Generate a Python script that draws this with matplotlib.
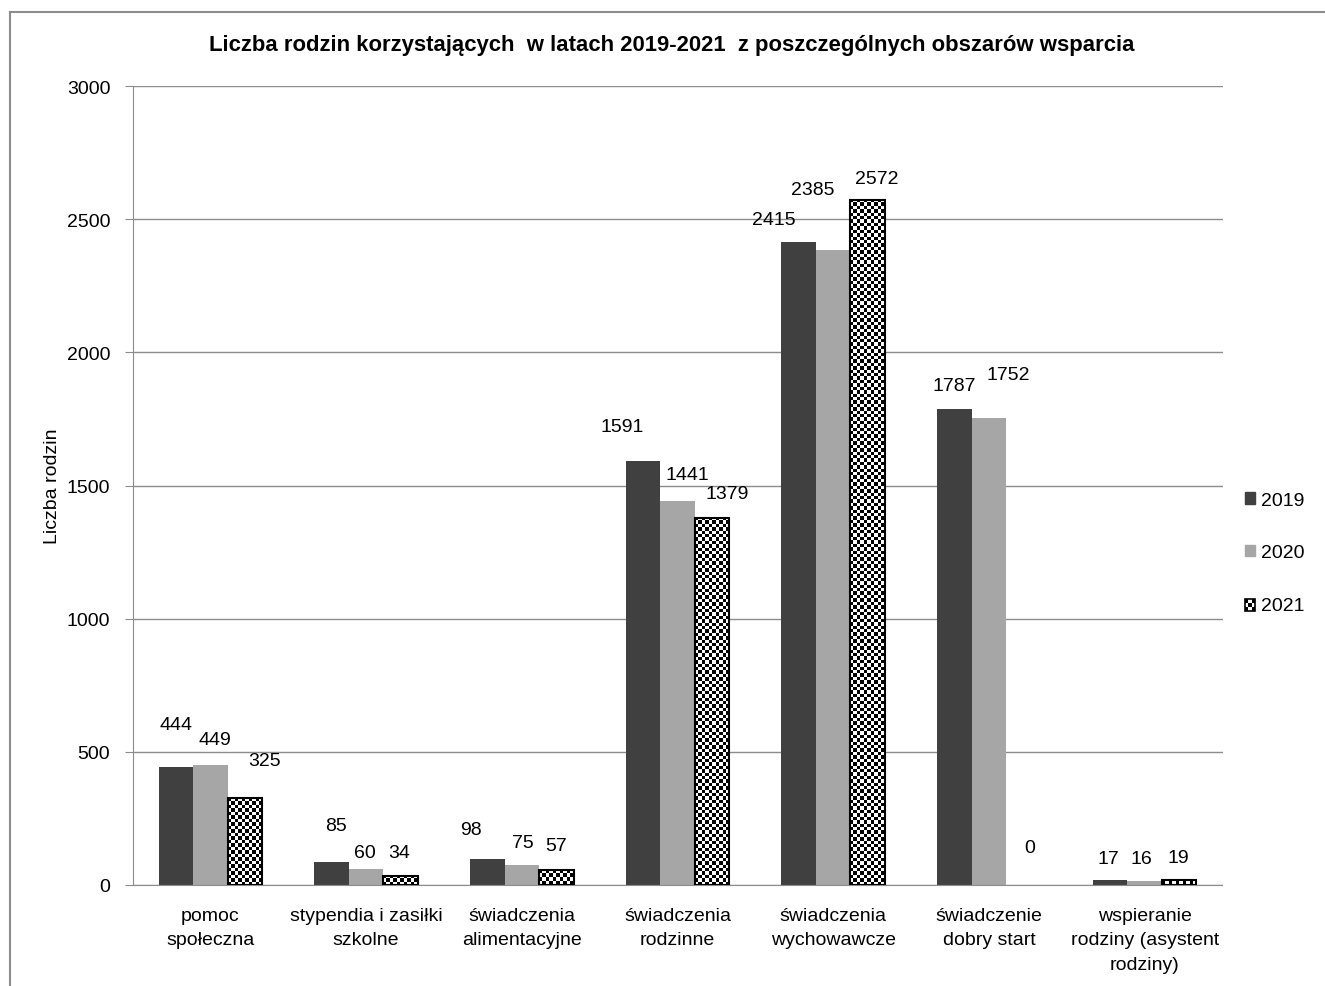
import numpy as np
import matplotlib
matplotlib.use("Agg")
import matplotlib.pyplot as plt
from matplotlib.patches import Patch, Rectangle
from matplotlib.lines import Line2D
from matplotlib.legend_handler import HandlerBase

plt.rcParams['font.family'] = ['Liberation Sans', 'DejaVu Sans']

# data
categories = ["pomoc\nspołeczna", "stypendia i zasiłki\nszkolne",
              "świadczenia\nalimentacyjne", "świadczenia\nrodzinne",
              "świadczenia\nwychowawcze", "świadczenie\ndobry start",
              "wspieranie\nrodziny (asystent\nrodziny)"]
years = ["2019", "2020", "2021"]
v2019 = [444, 85, 98, 1591, 2415, 1787, 17]
v2020 = [449, 60, 75, 1441, 2385, 1752, 16]
v2021 = [325, 34, 57, 1379, 2572, 0, 19]

# data label offsets from bar top (pixels), as placed in the original
off2019 = [(0, 42), (4, 37), (-16, 29), (-21, 35), (-25, 22), (0, 24), (-2, 22)]
off2020 = [(5, 26), (-1, 17), (1, 23), (10, 27), (-20, 60), (19, 44), (-3, 22)]
off2021 = [(20, 38), (-1, 23), (0, 24), (15, 24), (9, 21), (6, 37), (-1, 22)]

W, H = 1325, 987
fig = plt.figure(figsize=(W / 100, H / 100), dpi=100)
ax = fig.add_axes([132.5 / W, 1 - 886 / H, 1090 / W, 799 / H])

grey = '#8c8c8c'
x = np.arange(len(categories))
bw = 0.2216

b19 = ax.bar(x - bw, v2019, bw, color='#404040', zorder=2)
b20 = ax.bar(x, v2020, bw, color='#a6a6a6', zorder=2)
b21 = ax.bar(x + bw, v2021, bw, facecolor='none', edgecolor='black', linewidth=1.5, zorder=3)

ax.set_xlim(-0.5, len(categories) - 0.5)
ax.set_ylim(0, 3000)

# checkerboard fill for 2021 bars
for rect in b21:
    h = rect.get_height()
    if h <= 0:
        rect.set_linewidth(0)
        continue
    x0, x1 = rect.get_x(), rect.get_x() + rect.get_width()
    (px0, py0), (px1, py1) = ax.transData.transform([(x0, 0), (x1, h)])
    nx = max(1, round((px1 - px0) / 3.4))
    ny = max(1, round((py1 - py0) / 3.4))
    board = np.indices((ny, nx)).sum(axis=0) % 2
    ax.imshow(board, cmap='gray', vmin=0, vmax=1, extent=(x0, x1, 0, h),
              aspect='auto', interpolation='nearest', zorder=2.5)
ax.set_xlim(-0.5, len(categories) - 0.5)
ax.set_ylim(0, 3000)

for bars, offs in [(b19, off2019), (b20, off2020), (b21, off2021)]:
    for rect, (dx, dy) in zip(bars, offs):
        ax.annotate(f"{rect.get_height():.0f}",
                    (rect.get_x() + rect.get_width() / 2, rect.get_height()),
                    xytext=(dx, dy), textcoords='offset pixels',
                    ha='center', va='center', fontsize=14)

ax.set_yticks(np.arange(0, 3001, 500))
ax.yaxis.grid(True, color=grey, linewidth=1)
ax.set_axisbelow(True)
ax.set_xticks(x)
ax.set_xticklabels(categories, fontsize=14)
for lab in ax.get_xticklabels():
    lab.set_linespacing(1.55)
ax.tick_params(axis='x', length=0, pad=16)
ax.tick_params(axis='y', length=6, color=grey, pad=10, labelsize=14)
for s in ['top', 'right']:
    ax.spines[s].set_visible(False)
for s in ['left', 'bottom']:
    ax.spines[s].set_color(grey)

ax.set_ylabel("Liczba rodzin", fontsize=14)
ax.yaxis.set_label_coords(-0.066, 0.5)

fig.text(0.5 + (672 - 662.5) / W, 1 - 45 / H,
         "Liczba rodzin korzystających  w latach 2019-2021  z poszczególnych obszarów wsparcia",
         ha='center', va='center', fontsize=15.9, fontweight='bold')


class CheckerHandler(HandlerBase):
    def create_artists(self, legend, orig, xd, yd, width, height, fontsize, trans):
        arts = []
        n = 3
        cw, ch = width / n, height / n
        for i in range(n):
            for j in range(n):
                c = 'black' if (i + j) % 2 == 0 else 'white'
                arts.append(Rectangle((xd + i * cw, yd + j * ch), cw, ch,
                                      facecolor=c, edgecolor='none', transform=trans))
        arts.append(Rectangle((xd, yd), width, height, facecolor='none',
                              edgecolor='black', linewidth=1.2, transform=trans))
        return arts


handles = [Patch(color='#404040'), Patch(color='#a6a6a6'), Patch(color='white')]
fig.legend(handles, years, loc='center left', bbox_to_anchor=(1235 / W, 1 - 554 / H),
           frameon=False, fontsize=14, handlelength=0.55, handleheight=0.55,
           handletextpad=0.3, labelspacing=1.82, borderpad=0,
           handler_map={handles[2]: CheckerHandler()})

# outer frame (left and top edges visible)
fig.add_artist(Line2D([10 / W, 10 / W], [0, 1 - 13 / H], transform=fig.transFigure,
                      color=grey, linewidth=1.5))
fig.add_artist(Line2D([10 / W, 1], [1 - 13 / H, 1 - 13 / H], transform=fig.transFigure,
                      color=grey, linewidth=1.5))

fig.savefig("out.png", dpi=100)
